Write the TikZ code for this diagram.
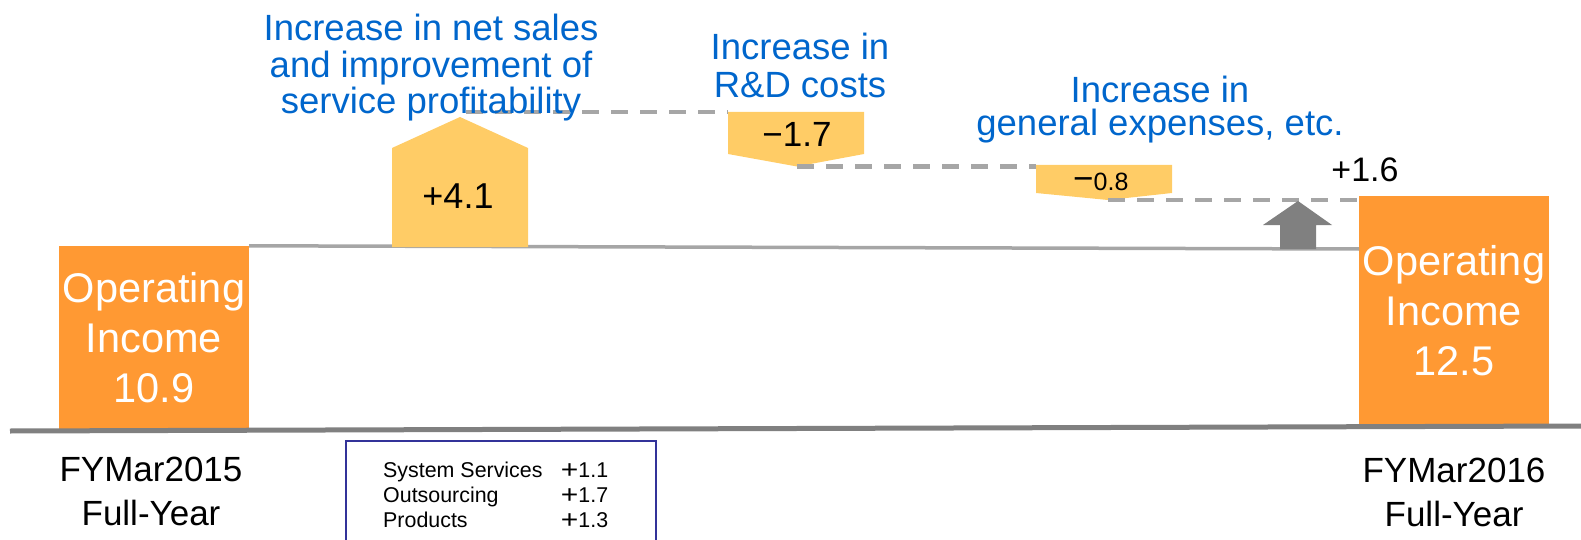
\documentclass[tikz,border=0pt]{standalone}
\usepackage{fontspec}
\setmainfont{Liberation Sans}
\definecolor{barorange}{HTML}{FF9933}
\definecolor{steplight}{HTML}{FFCC66}
\definecolor{noteblue}{HTML}{0066CC}
\definecolor{guide}{HTML}{A6A6A6}
\definecolor{axisgrey}{HTML}{808080}
\definecolor{framenavy}{HTML}{333399}
\newcommand{\fsz}[2]{\fontsize{#1}{#2}\selectfont}
% wide plus sign used in the breakdown list
\newcommand{\wideplus}{\raisebox{-1pt}{\scalebox{1.4}[1.2]{+}}}
\begin{document}
\begin{tikzpicture}[x=1pt,y=-1pt,
  total/.style={fill=barorange, text=white, minimum width=190pt, inner sep=0pt,
    align=center, font=\fsz{41.5}{50}},
  note/.style={text=noteblue, align=center, inner sep=0pt, anchor=north,
    font=\fsz{36.5}{36.5}},
  yearlabel/.style={align=center, inner sep=0pt, anchor=north, font=\fsz{35}{44}},
  delta/.style={inner sep=0pt, anchor=base, font=\fsz{35}{35}},
  guideline/.style={draw=guide, line width=4.3pt, dash pattern=on 17pt off 12pt},
  stepfill/.style={fill=steplight},
]
\useasboundingbox (0,0) rectangle (1581,540);

% opening and closing totals
\node[total, minimum height=184pt] (start) at (154,338) {Operating\\Income\\10.9};
\node[total, minimum height=230pt] (finish) at (1454,311) {Operating\\Income\\12.5};

% ground line
\coordinate (axisL) at (10,431);
\coordinate (axisR) at (1581,426);
\draw[axisgrey, line width=5pt] (axisL) -- (axisR);

% level of the opening total
\coordinate (lvl) at (1359,249);
\draw[guide, line width=3.5pt] (start.north east) -- (lvl);

% +4.1 step
\fill[stepfill] (392,247) -- (392,148) -- (460,117) coordinate (p41)
  -- (528,148) -- (528,247) -- cycle;
\node[delta, font=\fsz{36}{36}] (v41) at (458,208) {+4.1};

% -1.7 step
\fill[stepfill] (728,112) coordinate (r17) -- (864,112) -- (864,154)
  -- (797,166.5) coordinate (d17) -- (728,154) -- cycle;
\node[delta] (v17) at (797,147) {−1.7};

% -0.8 step
\fill[stepfill] (1036,165) coordinate (r08) -- (1172,165) -- (1172,193)
  -- (1108,200) coordinate (d08) -- (1036,193) -- cycle;
\node[delta, anchor=base west] (v08) at (1073,190) {−{\fsz{25}{25}0.8}};

% dashed carry-over lines
\coordinate (g1) at (466,112);
\draw[guideline] (g1) -- (r17);
\draw[guideline] (d17) -- (d17 -| r08);
\draw[guideline] (d08) -- (d08 -| finish.west);

% net increase arrow
\fill[axisgrey] (1280,249) -- (1280,225) -- (1263,225) -- (1298,201)
  -- (1332,225) -- (1316,225) -- (1316,249) -- cycle;
\node[delta, font=\fsz{34}{34}] (v16) at (1365,182) {+1.6};

% explanations
\node[note] (n1) at (431,13.9) {Increase in net sales\\and improvement of\\service profitability};
\node[note, font=\fsz{36.5}{38}] (n2) at (800,32.9) {Increase in\\R\&D costs};
\node[note, font=\fsz{36.5}{33}] (n3) at (1160,75.9) {Increase in\\general expenses, etc.};

% period labels
\node[yearlabel] (y15) at (151,457) {FYMar2015\\Full-Year};
\node[yearlabel] (y16) at (1454,458) {FYMar2016\\Full-Year};

% breakdown of the sales increase
\node[draw=framenavy, line width=2pt, minimum width=310pt, minimum height=120pt,
  anchor=north west, inner sep=0pt] (split) at (345,440) {};
\node[anchor=north west, inner sep=0pt, align=left, font=\fsz{21.4}{25}] (splittext) at (383,461.5)
  {\makebox[225pt][l]{System Services\hfill\wideplus1.1}\\
   \makebox[225pt][l]{Outsourcing\hfill\wideplus1.7}\\
   \makebox[225pt][l]{Products\hfill\wideplus1.3}};
\end{tikzpicture}
\end{document}
